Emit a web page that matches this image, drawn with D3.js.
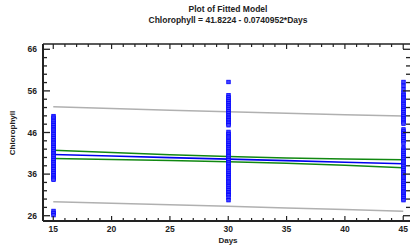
<!DOCTYPE html>
<html><head><meta charset="utf-8">
<script src="https://cdn.jsdelivr.net/npm/d3@7"></script>
<style>body{margin:0;background:#fff}svg{display:block}text{font-family:"Liberation Sans",Arial,sans-serif;font-weight:bold;fill:#222}</style>
</head><body>
<svg id="c" width="411" height="250"></svg>
<script>
const titleLines = ["Plot of Fitted Model", "Chlorophyll = 41.8224 - 0.0740952*Days"];
const xLabel = "Days";
const yLabel = "Chlorophyll";
const xTicks = [15, 20, 25, 30, 35, 40, 45];
const yTicks = [26, 36, 46, 56, 66];
// observed points
const days15 = [50.0, 49.6, 49.1, 48.7, 48.2, 47.8, 47.3, 46.9, 46.5, 46.0, 45.6, 45.1, 44.7, 44.2, 43.8, 43.4, 42.9, 42.5, 42.0, 41.6, 41.1, 40.7, 40.3, 39.8, 39.4, 38.9, 38.5, 38.0, 37.6, 37.2, 36.7, 36.3, 35.8, 35.4, 35.0, 34.7, 27.2, 26.7, 26.2];
const days30 = [58.2, 55.0, 54.5, 54.0, 53.6, 53.1, 52.6, 52.2, 51.7, 51.2, 50.7, 50.2, 49.8, 49.4, 49.0, 48.6, 48.2, 47.8, 46.2, 45.7, 45.2, 44.8, 44.3, 43.9, 43.4, 43.0, 42.5, 42.1, 41.6, 41.2, 40.7, 40.3, 39.8, 39.4, 38.9, 38.5, 38.0, 37.6, 37.1, 36.7, 36.2, 35.8, 35.3, 34.9, 34.4, 34.0, 33.5, 33.1, 32.6, 32.2, 31.7, 31.3, 31.0, 30.4, 29.8];
const days45 = [58.2, 57.3, 56.4, 55.6, 55.1, 54.6, 54.2, 53.7, 53.2, 52.8, 52.3, 51.8, 51.4, 50.9, 50.4, 50.0, 49.5, 49.1, 48.6, 48.2, 46.8, 46.3, 45.9, 45.4, 44.9, 44.4, 44.0, 43.4, 42.4, 41.9, 41.5, 41.0, 40.6, 40.1, 39.7, 39.2, 38.8, 38.3, 37.9, 37.4, 37.0, 36.5, 36.1, 35.6, 35.2, 34.7, 34.3, 33.8, 33.4, 32.9, 32.5, 32.0, 31.6, 31.1, 30.7, 30.2, 29.8];
// model curves
const curveX   = [15, 20, 25, 30, 35, 40, 45];
const fitted   = [40.71, 40.34, 39.97, 39.60, 39.23, 38.86, 38.49];
const upperCL  = [41.72, 41.20, 40.68, 40.25, 39.88, 39.62, 39.44];
const lowerCL  = [39.73, 39.50, 39.27, 38.95, 38.58, 38.10, 37.52];
const upperPL  = [52.20, 51.76, 51.34, 50.96, 50.60, 50.26, 49.95];
const lowerPL  = [29.35, 28.98, 28.62, 28.26, 27.88, 27.48, 27.10];

const svg = d3.select("#c");
const L = 43, R = 410, T = 44, B = 221;
const x = d3.scaleLinear().domain([14.12, 45.58]).range([L, R]);
const y = d3.scaleLinear().domain([24.73, 67.27]).range([B, T]);

// titles
svg.append("text").attr("x", 228).attr("y", 12).attr("text-anchor", "middle").attr("font-size", 8.5).text(titleLines[0]);
svg.append("text").attr("x", 228).attr("y", 23).attr("text-anchor", "middle").attr("font-size", 8.5).text(titleLines[1]);

// curves
const line = d3.line().x(d => x(d[0])).y(d => y(d[1]));
const mk = arr => curveX.map((v, i) => [v, arr[i]]);
const g = svg.append("g");
[[upperPL, "#b0b0b0", 1.5], [lowerPL, "#b0b0b0", 1.5], [upperCL, "#118811", 1.5], [lowerCL, "#118811", 1.5], [fitted, "#0000ee", 1.6]]
  .forEach(([arr, col, w]) => g.append("path").attr("d", line(mk(arr))).attr("fill", "none").attr("stroke", col).attr("stroke-width", w));

// points
const pts = [].concat(days15.map(v => [15, v]), days30.map(v => [30, v]), days45.map(v => [45, v]));
svg.append("g").selectAll("rect").data(pts).join("rect")
  .attr("x", d => x(d[0]) - 1.5).attr("y", d => y(d[1]) - 1.5).attr("width", 3.5).attr("height", 3.5)
  .attr("fill", "#4444ff").attr("stroke", "#0000ff").attr("stroke-width", 0.8);

// frame
const ax = svg.append("g").attr("stroke", "#222");
ax.append("line").attr("x1", L).attr("x2", R).attr("y1", B).attr("y2", B).attr("stroke-width", 2);
ax.append("line").attr("x1", L).attr("x2", L).attr("y1", T).attr("y2", B).attr("stroke-width", 2);
ax.append("line").attr("x1", L).attr("x2", R).attr("y1", T).attr("y2", T).attr("stroke-width", 1.5);

// x ticks (every 1 unit, major every 5)
const xMinor = d3.range(15, 46, 1);
xMinor.forEach(v => {
  const major = xTicks.includes(v);
  const len = major ? 5 : 3;
  ax.append("line").attr("x1", x(v)).attr("x2", x(v)).attr("y1", B).attr("y2", B - len).attr("stroke-width", 1.2);
  ax.append("line").attr("x1", x(v)).attr("x2", x(v)).attr("y1", T).attr("y2", T + len).attr("stroke-width", 1.2);
});
// y ticks (every 2, major every 10)
d3.range(26, 67, 2).forEach(v => {
  const major = yTicks.includes(v);
  const len = major ? 7 : 4;
  ax.append("line").attr("x1", L).attr("x2", L + len).attr("y1", y(v)).attr("y2", y(v)).attr("stroke-width", 1.3);
  ax.append("line").attr("x1", R).attr("x2", R - len).attr("y1", y(v)).attr("y2", y(v)).attr("stroke-width", 1.3);
});

svg.append("g").selectAll("text").data(xTicks).join("text")
  .attr("x", d => x(d)).attr("y", 232).attr("text-anchor", "middle").attr("font-size", 8.5).text(d => d);
svg.append("g").selectAll("text").data(yTicks).join("text")
  .attr("x", 37).attr("y", d => y(d) + 3).attr("text-anchor", "end").attr("font-size", 8.5).text(d => d);

svg.append("text").attr("x", 228).attr("y", 243).attr("text-anchor", "middle").attr("font-size", 8).text(xLabel);
svg.append("text").attr("transform", "translate(15,133) rotate(-90)").attr("text-anchor", "middle").attr("font-size", 8).text(yLabel);
</script>
</body></html>
